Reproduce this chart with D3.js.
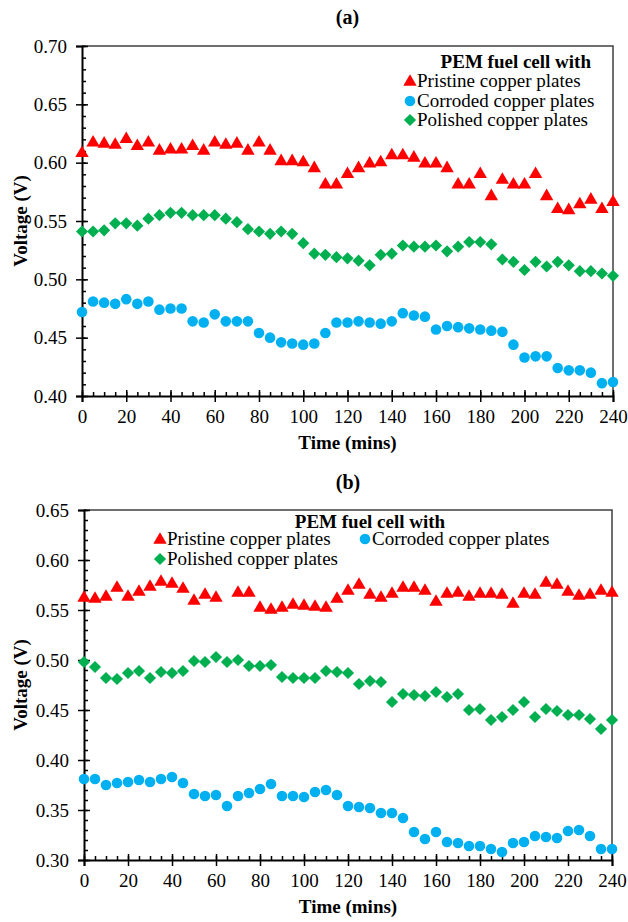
<!DOCTYPE html>
<html>
<head>
<meta charset="utf-8">
<script src="https://cdn.jsdelivr.net/npm/d3@7"></script>
<style>
  html, body { margin: 0; padding: 0; background: #fff; }
  svg text { font-family: "Times New Roman", "Liberation Serif", "DejaVu Serif", serif; fill: #000; }
</style>
</head>
<body>
<svg id="chart" width="628" height="922"></svg>
<script>
// time axis (minutes), shared by both panels
const TIME_MINS = [0,5,10,15,20,25,30,35,40,45,50,55,60,65,70,75,80,85,90,95,100,105,110,115,120,
  125,130,135,140,145,150,155,160,165,170,175,180,185,190,195,200,205,210,215,220,225,230,235,240];
const X_TICKS = [0,20,40,60,80,100,120,140,160,180,200,220,240];

// panel (a)
const pristineA = [0.609,0.618,0.617,0.616,0.621,0.615,0.618,0.611,0.612,0.612,0.615,0.611,0.618,0.616,0.617,0.611,0.618,0.611,0.602,0.602,0.601,0.596,0.582,0.582,0.591,
  0.596,0.600,0.601,0.607,0.607,0.605,0.600,0.600,0.596,0.582,0.582,0.591,0.572,0.586,0.582,0.582,0.591,0.572,0.561,0.560,0.565,0.569,0.561,0.567];
const corrodedA = [0.472,0.481,0.480,0.479,0.483,0.479,0.481,0.474,0.475,0.475,0.464,0.463,0.470,0.464,0.464,0.464,0.454,0.450,0.446,0.445,0.444,0.445,0.454,0.463,0.463,
  0.464,0.463,0.462,0.464,0.471,0.469,0.468,0.457,0.460,0.459,0.458,0.457,0.456,0.455,0.444,0.433,0.434,0.434,0.424,0.422,0.422,0.420,0.411,0.412];
const polishedA = [0.541,0.541,0.542,0.548,0.548,0.546,0.552,0.555,0.557,0.557,0.555,0.555,0.555,0.552,0.549,0.543,0.541,0.539,0.541,0.539,0.531,0.522,0.521,0.519,0.518,
  0.516,0.512,0.521,0.522,0.529,0.528,0.528,0.529,0.524,0.528,0.532,0.532,0.530,0.517,0.515,0.508,0.515,0.511,0.515,0.512,0.507,0.507,0.505,0.503];
const Y_TICKS_A = [0.40,0.45,0.50,0.55,0.60,0.65,0.70];

// panel (b)  (no pristine reading at 65 min)
const pristineB = [0.563,0.562,0.564,0.573,0.564,0.569,0.574,0.579,0.577,0.572,0.560,0.566,0.563,null,0.568,0.568,0.553,0.551,0.553,0.556,0.555,0.554,0.553,0.562,0.570,
  0.576,0.566,0.563,0.567,0.573,0.573,0.570,0.559,0.567,0.568,0.564,0.567,0.567,0.566,0.557,0.567,0.566,0.578,0.576,0.569,0.565,0.566,0.570,0.568];
const corrodedB = [0.381,0.381,0.375,0.377,0.378,0.380,0.378,0.381,0.383,0.377,0.366,0.364,0.365,0.354,0.364,0.367,0.371,0.376,0.364,0.364,0.363,0.368,0.370,0.365,0.354,
  0.353,0.352,0.347,0.347,0.342,0.328,0.321,0.328,0.318,0.317,0.314,0.314,0.311,0.308,0.317,0.318,0.324,0.323,0.322,0.329,0.330,0.324,0.311,0.311];
const polishedB = [0.498,0.493,0.482,0.481,0.487,0.489,0.482,0.488,0.487,0.489,0.499,0.498,0.503,0.498,0.500,0.494,0.494,0.495,0.483,0.482,0.482,0.482,0.489,0.488,0.487,
  0.476,0.479,0.478,0.458,0.466,0.465,0.464,0.468,0.463,0.466,0.450,0.451,0.440,0.443,0.450,0.458,0.443,0.451,0.449,0.445,0.445,0.441,0.431,0.440];
const Y_TICKS_B = [0.30,0.35,0.40,0.45,0.50,0.55,0.60,0.65];

const SERIES_NAMES = ['Pristine copper plates', 'Corroded copper plates', 'Polished copper plates'];
const LEGEND_TITLE = 'PEM fuel cell with';

const RED = '#ff0000', BLUE = '#00b0f0', GREEN = '#00b050';
const FONT = 19;
const FAMILY = '"Times New Roman", "Liberation Serif", "DejaVu Serif", serif';

const svg = d3.select('#chart');

const SYM = {
  tri:  d3.symbol().type(d3.symbolTriangle).size(78),
  circ: d3.symbol().type(d3.symbolCircle).size(88),
  dia:  d3.symbol().type(d3.symbolSquare).size(74)
};
function marker(g, kind, color, x, y) {
  const p = g.append('path').attr('d', SYM[kind]()).attr('fill', color);
  if (kind === 'dia') p.attr('transform', `translate(${x},${y}) rotate(45)`);
  else if (kind === 'tri') p.attr('transform', `translate(${x},${y + 1})`);
  else p.attr('transform', `translate(${x},${y})`);
}

function drawPanel(cfg) {
  const { left, right, top, bottom, domain, yTicks, title, titleY, series, legend } = cfg;
  const x = d3.scaleLinear().domain([0, 240]).range([left, right]);
  const y = d3.scaleLinear().domain(domain).range([bottom, top]);
  const g = svg.append('g').attr('font-family', FAMILY);

  // frame (top + right)
  g.append('path')
    .attr('d', `M${left},${top}H${right}V${bottom}`)
    .attr('fill', 'none').attr('stroke', '#404040').attr('stroke-width', 1.5);

  const minorY = d3.range(Math.round(domain[0] * 100), Math.round(domain[1] * 100) + 1).map(v => v / 100);
  const minorX = TIME_MINS;

  // minor ticks (inside)
  g.append('g').attr('transform', `translate(${left},0)`)
    .call(d3.axisLeft(y).tickValues(minorY).tickSize(-4).tickFormat(''))
    .call(a => a.select('.domain').remove());
  g.append('g').attr('transform', `translate(0,${bottom})`)
    .call(d3.axisBottom(x).tickValues(minorX).tickSize(-4).tickFormat(''))
    .call(a => a.select('.domain').remove());
  // major ticks crossing the axis
  g.append('g').attr('transform', `translate(${left},0)`)
    .call(d3.axisLeft(y).tickValues(yTicks).tickSize(-6).tickFormat(''))
    .call(a => a.select('.domain').remove());
  g.append('g').attr('transform', `translate(0,${bottom})`)
    .call(d3.axisBottom(x).tickValues(X_TICKS).tickSize(-6).tickFormat(''))
    .call(a => a.select('.domain').remove());

  const yAxis = g.append('g').attr('transform', `translate(${left},0)`)
    .call(d3.axisLeft(y).tickValues(yTicks).tickSize(6).tickPadding(9).tickFormat(d3.format('.2f')));
  const xAxis = g.append('g').attr('transform', `translate(0,${bottom})`)
    .call(d3.axisBottom(x).tickValues(X_TICKS).tickSize(6).tickPadding(8).tickFormat(d3.format('d')));
  [yAxis, xAxis].forEach(a => {
    a.attr('font-family', FAMILY);
    a.selectAll('.domain').attr('stroke', '#000').attr('stroke-width', 2);
    a.selectAll('text').attr('font-size', FONT).attr('fill', '#000');
  });
  g.selectAll('g').attr('font-family', FAMILY);
  g.selectAll('.tick line').attr('stroke', '#000').attr('stroke-width', 1.5);

  // axis titles
  const midX = (left + right) / 2;
  g.append('text').attr('x', midX).attr('y', bottom + 53).attr('text-anchor', 'middle')
    .attr('font-size', FONT).attr('font-weight', 'bold').text('Time (mins)');
  g.append('text').attr('transform', `translate(27,${(top + bottom) / 2}) rotate(-90)`)
    .attr('text-anchor', 'middle').attr('font-size', FONT).attr('font-weight', 'bold').text('Voltage (V)');
  g.append('text').attr('x', midX).attr('y', titleY).attr('text-anchor', 'middle')
    .attr('font-size', 20).attr('font-weight', 'bold').text(title);

  // points
  series.forEach(s => {
    const pts = g.append('g');
    s.values.forEach((v, i) => {
      if (v == null) return;
      marker(pts, s.kind, s.color, x(TIME_MINS[i]), y(v));
    });
  });

  // legend
  g.append('text').attr('x', legend.titleX).attr('y', legend.titleY + 6)
    .attr('text-anchor', legend.titleAnchor).attr('font-size', FONT).attr('font-weight', 'bold')
    .text(LEGEND_TITLE);
  series.forEach((s, i) => {
    const [lx, ly] = legend.items[i];
    marker(g, s.kind, s.color, lx, ly);
    g.append('text').attr('x', lx + 7).attr('y', ly + 6).attr('font-size', FONT).text(s.name);
  });
}

drawPanel({
  left: 82, right: 613, top: 46, bottom: 396,
  domain: [0.40, 0.70], yTicks: Y_TICKS_A,
  title: '(a)', titleY: 24,
  series: [
    { name: SERIES_NAMES[0], values: pristineA, kind: 'tri', color: RED },
    { name: SERIES_NAMES[1], values: corrodedA, kind: 'circ', color: BLUE },
    { name: SERIES_NAMES[2], values: polishedA, kind: 'dia', color: GREEN }
  ],
  legend: { titleX: 591, titleY: 62, titleAnchor: 'end', items: [[410, 81], [410, 101], [410, 120]] }
});

drawPanel({
  left: 84, right: 612, top: 510, bottom: 860,
  domain: [0.30, 0.65], yTicks: Y_TICKS_B,
  title: '(b)', titleY: 489,
  series: [
    { name: SERIES_NAMES[0], values: pristineB, kind: 'tri', color: RED },
    { name: SERIES_NAMES[1], values: corrodedB, kind: 'circ', color: BLUE },
    { name: SERIES_NAMES[2], values: polishedB, kind: 'dia', color: GREEN }
  ],
  legend: { titleX: 370, titleY: 522, titleAnchor: 'middle', items: [[160, 539], [365, 539], [160, 559]] }
});
</script>
</body>
</html>
